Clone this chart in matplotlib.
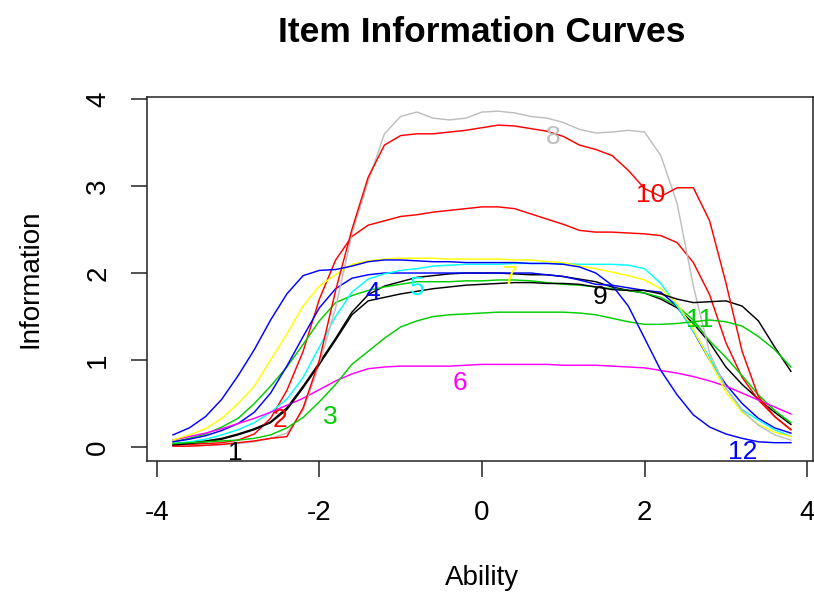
import matplotlib
matplotlib.use("Agg")
import matplotlib.pyplot as plt

plt.rcParams['font.family'] = ['Liberation Sans', 'DejaVu Sans']

ability = [-3.8, -3.6, -3.4, -3.2, -3.0, -2.8, -2.6, -2.4, -2.2, -2.0,
           -1.8, -1.6, -1.4, -1.2, -1.0, -0.8, -0.6, -0.4, -0.2, 0.0,
           0.2, 0.4, 0.6, 0.8, 1.0, 1.2, 1.4, 1.6, 1.8, 2.0,
           2.2, 2.4, 2.6, 2.8, 3.0, 3.2, 3.4, 3.6, 3.8]

item1 = [0.03, 0.05, 0.07, 0.10, 0.15, 0.21, 0.29, 0.45, 0.70, 0.97,
         1.25, 1.55, 1.75, 1.85, 1.90, 1.95, 1.97, 1.99, 2.00, 2.00,
         2.00, 1.99, 1.98, 1.98, 1.96, 1.93, 1.90, 1.84, 1.80, 1.77,
         1.70, 1.60, 1.42, 1.20, 0.92, 0.72, 0.55, 0.40, 0.26]
item2 = [0.02, 0.03, 0.04, 0.05, 0.08, 0.15, 0.33, 0.65, 1.10, 1.70,
         2.15, 2.42, 2.55, 2.60, 2.65, 2.67, 2.70, 2.72, 2.74, 2.76,
         2.76, 2.74, 2.68, 2.62, 2.56, 2.49, 2.47, 2.47, 2.46, 2.45,
         2.43, 2.35, 2.12, 1.75, 1.20, 0.80, 0.54, 0.35, 0.20]
item3 = [0.06, 0.10, 0.15, 0.23, 0.33, 0.50, 0.70, 0.92, 1.18, 1.45,
         1.66, 1.74, 1.80, 1.84, 1.87, 1.90, 1.90, 1.90, 1.91, 1.91,
         1.92, 1.92, 1.91, 1.89, 1.87, 1.86, 1.84, 1.82, 1.80, 1.77,
         1.72, 1.62, 1.46, 1.22, 1.03, 0.82, 0.60, 0.42, 0.28]
item4 = [0.06, 0.09, 0.13, 0.19, 0.27, 0.40, 0.62, 0.93, 1.27, 1.60,
         1.82, 1.94, 1.98, 2.00, 2.00, 2.00, 2.00, 2.00, 2.00, 2.00,
         2.00, 2.00, 2.00, 1.98, 1.96, 1.92, 1.87, 1.86, 1.83, 1.80,
         1.78, 1.62, 1.33, 1.00, 0.72, 0.50, 0.33, 0.22, 0.16]
item5 = [0.04, 0.06, 0.09, 0.14, 0.20, 0.28, 0.40, 0.55, 0.80, 1.15,
         1.50, 1.78, 1.93, 1.99, 2.03, 2.05, 2.08, 2.09, 2.10, 2.10,
         2.10, 2.11, 2.11, 2.11, 2.11, 2.10, 2.10, 2.10, 2.09, 2.05,
         1.88, 1.62, 1.33, 1.03, 0.68, 0.43, 0.31, 0.20, 0.12]
item6 = [0.08, 0.12, 0.16, 0.21, 0.27, 0.33, 0.40, 0.48, 0.56, 0.66,
         0.76, 0.84, 0.90, 0.92, 0.93, 0.93, 0.93, 0.93, 0.94, 0.95,
         0.95, 0.95, 0.95, 0.95, 0.94, 0.94, 0.94, 0.93, 0.92, 0.91,
         0.88, 0.85, 0.81, 0.76, 0.70, 0.62, 0.54, 0.46, 0.38]
item7 = [0.08, 0.14, 0.21, 0.33, 0.50, 0.70, 1.00, 1.30, 1.62, 1.85,
         1.98, 2.10, 2.14, 2.16, 2.17, 2.17, 2.17, 2.16, 2.16, 2.16,
         2.16, 2.15, 2.15, 2.13, 2.12, 2.08, 2.05, 2.01, 1.97, 1.92,
         1.82, 1.65, 1.35, 1.00, 0.63, 0.40, 0.26, 0.17, 0.12]
item8 = [0.01, 0.01, 0.02, 0.03, 0.04, 0.06, 0.10, 0.16, 0.42, 0.95,
         1.60, 2.45, 3.05, 3.60, 3.80, 3.85, 3.78, 3.76, 3.78, 3.85,
         3.86, 3.84, 3.80, 3.78, 3.73, 3.65, 3.61, 3.62, 3.64, 3.62,
         3.35, 2.80, 1.85, 1.08, 0.68, 0.42, 0.25, 0.14, 0.08]
item9 = [0.02, 0.04, 0.06, 0.09, 0.14, 0.20, 0.28, 0.43, 0.68, 0.95,
         1.23, 1.52, 1.68, 1.72, 1.76, 1.79, 1.82, 1.84, 1.86, 1.87,
         1.88, 1.89, 1.89, 1.88, 1.88, 1.87, 1.84, 1.81, 1.80, 1.80,
         1.76, 1.70, 1.66, 1.67, 1.68, 1.62, 1.45, 1.15, 0.87]
item10 = [0.01, 0.01, 0.02, 0.03, 0.05, 0.07, 0.10, 0.12, 0.45, 1.00,
          1.80, 2.50, 3.10, 3.47, 3.58, 3.60, 3.60, 3.62, 3.64, 3.67,
          3.70, 3.69, 3.66, 3.63, 3.57, 3.47, 3.42, 3.35, 3.18, 2.97,
          2.88, 2.98, 2.98, 2.60, 1.89, 1.10, 0.58, 0.35, 0.20]
item11 = [0.04, 0.05, 0.06, 0.07, 0.08, 0.10, 0.14, 0.22, 0.34, 0.52,
          0.72, 0.95, 1.10, 1.25, 1.38, 1.45, 1.50, 1.52, 1.53, 1.54,
          1.55, 1.55, 1.55, 1.55, 1.55, 1.54, 1.52, 1.48, 1.44, 1.41,
          1.41, 1.42, 1.44, 1.46, 1.44, 1.39, 1.27, 1.12, 0.92]
item12 = [0.14, 0.22, 0.35, 0.55, 0.82, 1.12, 1.46, 1.76, 1.97, 2.03,
          2.04, 2.08, 2.13, 2.15, 2.15, 2.14, 2.13, 2.13, 2.12, 2.12,
          2.12, 2.12, 2.11, 2.11, 2.10, 2.07, 2.00, 1.86, 1.62, 1.25,
          0.88, 0.60, 0.37, 0.23, 0.15, 0.10, 0.06, 0.05, 0.05]

items = [item1, item2, item3, item4, item5, item6,
         item7, item8, item9, item10, item11, item12]
item_labels = ["1", "2", "3", "4", "5", "6", "7", "8", "9", "10", "11", "12"]
label_x = [-3.04, -2.48, -1.87, -1.34, -0.80, -0.27, 0.34, 0.87, 1.45, 2.07, 2.68, 3.21]
label_y = [-0.07, 0.31, 0.34, 1.77, 1.83, 0.74, 1.96, 3.56, 1.72, 2.90, 1.46, -0.06]

palette = ["black", "#FF0000", "#00CD00", "#0000FF", "#00FFFF",
           "#FF00FF", "#FFFF00", "#BEBEBE"]

x_ticks = [-4, -2, 0, 2, 4]
y_ticks = [0, 1, 2, 3, 4]

fig = plt.figure(figsize=(8.14, 5.94), dpi=100)
ax = fig.add_axes([146.7 / 814, (594 - 460.7) / 594, 666 / 814, (460.7 - 97) / 594])

for i, vals in enumerate(items):
    ax.plot(ability, vals, color=palette[i % 8], lw=1.05)

for i, lab in enumerate(item_labels):
    ax.text(label_x[i], label_y[i], lab, color=palette[i % 8], fontsize=19,
            ha="center", va="center")

ax.set_xlim(-4.124, 4.068)
ax.set_ylim(-0.157, 4.023)
ax.set_xticks(x_ticks)
ax.set_yticks(y_ticks)
ax.set_xticklabels([str(t) for t in x_ticks], fontsize=20)
ax.set_yticklabels([str(t) for t in y_ticks], fontsize=20, rotation=90, va="center")
ax.tick_params(axis="both", length=11.5, width=1.1, color="#222222")
ax.tick_params(axis="x", pad=17)
ax.tick_params(axis="y", pad=14)
for s in ax.spines.values():
    s.set_linewidth(1.1)
    s.set_color("#222222")

fig.text(482 / 814, 1 - 32 / 594, "Item Information Curves", fontsize=25.5,
         fontweight="bold", ha="center", va="center")
fig.text(482 / 814, 1 - 578 / 594, "Ability", fontsize=20, ha="center", va="center")
fig.text(30 / 814, 1 - 279 / 594, "Information", fontsize=20, ha="center",
         va="center", rotation=90)

fig.savefig("out.png", dpi=100)
